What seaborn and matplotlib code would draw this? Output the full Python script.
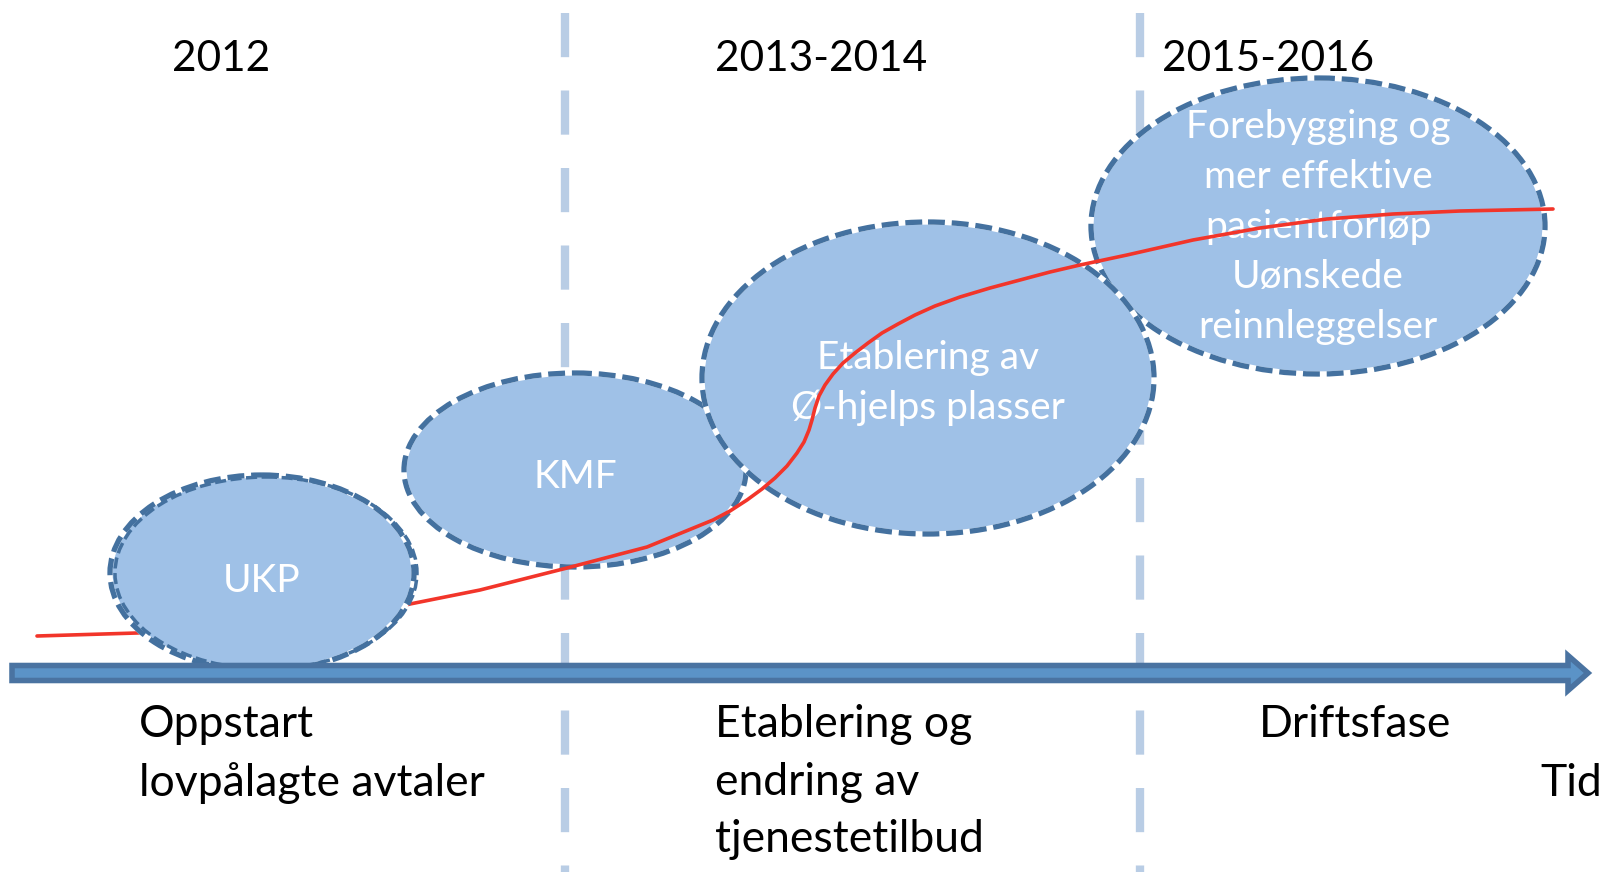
import numpy as np
import pandas as pd
from matplotlib import pyplot as plt
from matplotlib.patches import Ellipse, FancyArrow
import seaborn as sns

sns.set_theme(style='white')
plt.rcParams['font.family'] = ['Lato', 'DejaVu Sans']

# red development curve (pixel units)
curve_x = [37, 137, 250, 330, 405, 480, 567, 647, 713, 730, 747, 762, 775, 787,
           797, 804, 809, 812, 815, 819, 825, 833, 843, 855, 868, 882, 898, 915,
           935, 960, 990, 1020, 1050, 1080, 1127, 1193, 1260, 1327, 1393, 1460, 1553]
curve_y = [636, 633, 626, 617, 605, 590, 568, 547, 520, 511, 500, 489, 478, 466,
           453, 442, 430, 420, 408, 396, 385, 374, 363, 353, 343, 333, 324, 315,
           306, 297, 288, 280, 272, 265, 255, 240, 228, 219, 214, 211, 209]

# phases
years = ['2012', '2013-2014', '2015-2016']
phases = ['Oppstart\nlovpålagte avtaler', 'Etablering og\nendring av\ntjenestetilbud', 'Driftsfase']
phase_x = [139, 715, 1259]
year_x = [172, 715, 1162]
dividers = [565, 1140]

# bubbles
bubble_labels = ['UKP', 'KMF', 'Etablering av\nØ-hjelps plasser',
                 'Forebygging og\nmer effektive\npasientforløp\nUønskede\nreinnleggelser']
bubble_cx = [262, 575, 928, 1318]
bubble_cy = [573, 470, 378, 226]
bubble_w = [304, 342, 452, 454]
bubble_h = [196, 194, 312, 296]
bubble_text_y = [581, 477, 383, 227]
bubble_z = [6, 3, 4, 3.5]

fill = '#9fc1e7'
edge = '#44719f'

fig = plt.figure(figsize=(16.02, 8.72), dpi=100)
ax = fig.add_axes([0, 0, 1, 1])

ax.vlines(dividers, 13, 872, colors='#b9cde5', lw=6, linestyles=[(0, (5.3, 4))], zorder=1)

for lab, cx, cy, w, h, ty, z in zip(bubble_labels, bubble_cx, bubble_cy, bubble_w,
                                     bubble_h, bubble_text_y, bubble_z):
    ax.add_patch(Ellipse((cx, cy), w, h, fc=fill, ec='white', lw=3.8, zorder=z))
    ax.add_patch(Ellipse((cx, cy), w, h, fc='none', ec=edge, lw=3.8,
                         linestyle=(0, (3.2, 1.3)), zorder=z + 0.01))
    ax.text(cx, ty, lab, color='white', fontsize=28, ha='center', va='center',
            linespacing=1.49, zorder=z + 0.02)

# second outline on the UKP bubble
ax.add_patch(Ellipse((bubble_cx[0] + 4, bubble_cy[0]), bubble_w[0] - 2, bubble_h[0] - 4,
                     fc='none', ec=edge, lw=2.5, linestyle=(0, (3.2, 1.3)), zorder=6.005))

df = pd.DataFrame({'x': curve_x, 'y': curve_y})
sns.lineplot(data=df, x='x', y='y', ax=ax, color='#f2352a', lw=2.6, zorder=5)

ax.add_patch(FancyArrow(12, 673, 1576, 0, width=15, head_width=35, head_length=20,
                        length_includes_head=True, fc='#5b93c7', ec='#4a73a1',
                        lw=4, zorder=8))

for t, x in zip(years, year_x):
    ax.text(x, 59, t, fontsize=30.5, ha='left', va='center', color='black')
for t, x in zip(phases, phase_x):
    ax.text(x, 704, t, fontsize=32, ha='left', va='top', color='black', linespacing=1.5)
ax.text(1540, 783, 'Tid', fontsize=32, ha='left', va='center', color='black')

ax.set_xlim(0, 1602)
ax.set_ylim(872, 0)
ax.axis('off')

plt.savefig('out.png', dpi=100)
